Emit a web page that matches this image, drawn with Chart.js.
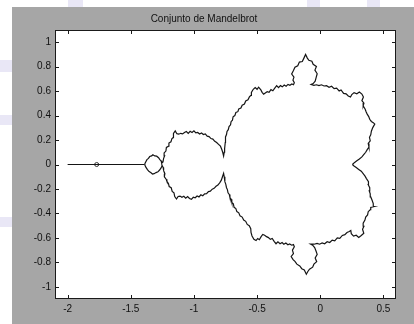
<!DOCTYPE html>
<html>
<head>
<meta charset="utf-8">
<script src="https://cdn.jsdelivr.net/npm/chart.js@4.4.0/dist/chart.umd.min.js"></script>
<style>
    html, body { margin: 0; padding: 0; background: #ffffff; }
    body { width: 414px; height: 324px; position: relative; overflow: hidden; }
    .patch { position: absolute; background: #e9e7f6; }
    #frame { position: absolute; left: 12px; top: 7px; width: 402px; height: 317px; background: #a6a6a6; }
</style>
</head>
<body>
<div class="patch" style="left:0;top:60px;width:12px;height:12px"></div>
<div class="patch" style="left:0;top:115px;width:12px;height:10px"></div>
<div class="patch" style="left:0;top:217px;width:12px;height:10px"></div>
<div class="patch" style="left:68px;top:0;width:15px;height:7px"></div>
<div class="patch" style="left:307px;top:0;width:13px;height:7px"></div>
<div class="patch" style="left:367px;top:0;width:13px;height:7px"></div>
<div id="frame"><canvas id="mandelChart" width="402" height="317"></canvas></div>
<script>
// Conjunto de Mandelbrot - boundary
const titleText = 'Conjunto de Mandelbrot';
const xTicks = [-2, -1.5, -1, -0.5, 0, 0.5];
const yTicks = [-1, -0.8, -0.6, -0.4, -0.2, 0, 0.2, 0.4, 0.6, 0.8, 1];

// antenna on the real axis and the tiny copy sitting on it
const antenna = [[-2.0, 0], [-1.39, 0]];
const miniCopy = [[-1.77, 0]];

// upper half of the outline, left to right
const upperEdge = [
    [-1.39, 0], [-1.385, 0.015], [-1.372, 0.04], [-1.36, 0.05], [-1.35, 0.065], [-1.335, 0.07], [-1.325, 0.08],
    [-1.31, 0.07], [-1.295, 0.068], [-1.28, 0.055], [-1.27, 0.04], [-1.26, 0.03], [-1.255, 0.01], [-1.245, 0.02],
    // period-2 bulb
    [-1.24, 0.05], [-1.232, 0.07], [-1.236, 0.095], [-1.222, 0.11], [-1.218, 0.14], [-1.2, 0.15], [-1.198, 0.175],
    [-1.182, 0.185], [-1.175, 0.21], [-1.165, 0.22], [-1.162, 0.255], [-1.148, 0.275], [-1.135, 0.252], [-1.12, 0.248],
    [-1.105, 0.255], [-1.09, 0.25], [-1.075, 0.262], [-1.06, 0.27], [-1.045, 0.255], [-1.03, 0.272], [-1.015, 0.262],
    [-1.0, 0.275], [-0.985, 0.258], [-0.97, 0.262], [-0.955, 0.25], [-0.94, 0.258], [-0.925, 0.245], [-0.91, 0.25],
    [-0.895, 0.232], [-0.88, 0.228], [-0.865, 0.212], [-0.85, 0.208], [-0.835, 0.19], [-0.82, 0.18], [-0.805, 0.165],
    [-0.79, 0.15], [-0.78, 0.125], [-0.772, 0.1], [-0.765, 0.07],
    // main cardioid, upper left
    [-0.76, 0.1], [-0.757, 0.13], [-0.752, 0.18], [-0.75, 0.225], [-0.742, 0.245], [-0.738, 0.27], [-0.728, 0.285],
    [-0.722, 0.31], [-0.71, 0.325], [-0.706, 0.35], [-0.695, 0.362], [-0.69, 0.39], [-0.676, 0.4], [-0.668, 0.425],
    [-0.652, 0.432], [-0.645, 0.455], [-0.628, 0.462], [-0.618, 0.485], [-0.6, 0.495], [-0.59, 0.52], [-0.572, 0.53],
    [-0.56, 0.555], [-0.548, 0.565],
    [-0.545, 0.59], [-0.53, 0.615], [-0.515, 0.63], [-0.5, 0.615], [-0.488, 0.632], [-0.47, 0.61], [-0.46, 0.59],
    [-0.448, 0.575], [-0.435, 0.585], [-0.42, 0.595], [-0.405, 0.59], [-0.39, 0.612], [-0.375, 0.603], [-0.36, 0.625],
    [-0.345, 0.645], [-0.33, 0.628], [-0.315, 0.645], [-0.3, 0.635], [-0.285, 0.65], [-0.27, 0.64], [-0.255, 0.655],
    [-0.24, 0.648], [-0.225, 0.658], [-0.212, 0.652],
    // top bulb
    [-0.205, 0.668], [-0.216, 0.69], [-0.208, 0.715], [-0.226, 0.74], [-0.212, 0.768], [-0.2, 0.795], [-0.178, 0.808],
    [-0.165, 0.838], [-0.142, 0.842], [-0.13, 0.868], [-0.116, 0.9], [-0.102, 0.87], [-0.09, 0.852], [-0.066, 0.845],
    [-0.056, 0.82], [-0.03, 0.802], [-0.042, 0.772], [-0.024, 0.742], [-0.032, 0.712], [-0.04, 0.682], [-0.056, 0.662],
    [-0.072, 0.655],
    // main cardioid, upper right
    [-0.05, 0.648], [-0.03, 0.652], [-0.01, 0.645], [0.01, 0.652], [0.03, 0.642], [0.05, 0.645], [0.07, 0.632],
    [0.09, 0.64], [0.11, 0.62], [0.13, 0.625], [0.15, 0.602], [0.165, 0.61], [0.185, 0.582], [0.205, 0.578],
    [0.222, 0.56], [0.24, 0.552],
    [0.25, 0.572], [0.268, 0.588], [0.29, 0.578], [0.31, 0.592], [0.33, 0.576], [0.342, 0.552], [0.33, 0.522],
    [0.346, 0.502], [0.34, 0.48],
    [0.356, 0.452], [0.364, 0.43], [0.372, 0.412], [0.384, 0.392], [0.392, 0.37], [0.405, 0.352], [0.42, 0.342],
    [0.432, 0.33], [0.416, 0.302], [0.405, 0.272], [0.4, 0.243], [0.39, 0.222], [0.396, 0.193], [0.38, 0.172],
    [0.386, 0.142], [0.372, 0.122], [0.36, 0.1], [0.346, 0.082], [0.33, 0.062], [0.31, 0.045], [0.29, 0.03],
    [0.27, 0.015], [0.255, 0]
];

// lower half of the outline, left to right
const lowerEdge = [
    [-1.39, 0], [-1.382, -0.02], [-1.368, -0.042], [-1.355, -0.058], [-1.342, -0.066], [-1.328, -0.078], [-1.315, -0.075],
    [-1.3, -0.066], [-1.285, -0.06], [-1.272, -0.045], [-1.26, -0.028], [-1.252, -0.01], [-1.243, -0.025],
    // period-2 bulb
    [-1.24, -0.05], [-1.23, -0.075], [-1.234, -0.1], [-1.22, -0.12], [-1.214, -0.138], [-1.202, -0.155], [-1.196, -0.18],
    [-1.18, -0.19], [-1.172, -0.22], [-1.158, -0.232], [-1.152, -0.262], [-1.138, -0.282], [-1.125, -0.262], [-1.11, -0.258],
    [-1.095, -0.268], [-1.08, -0.26], [-1.065, -0.275], [-1.05, -0.262], [-1.035, -0.278], [-1.02, -0.285], [-1.005, -0.268],
    [-0.99, -0.272], [-0.975, -0.258], [-0.96, -0.265], [-0.945, -0.248], [-0.93, -0.255], [-0.915, -0.24], [-0.9, -0.238],
    [-0.885, -0.222], [-0.87, -0.218], [-0.855, -0.202], [-0.84, -0.195], [-0.825, -0.178], [-0.81, -0.168], [-0.795, -0.148],
    [-0.783, -0.128], [-0.774, -0.1], [-0.765, -0.073],
    // main cardioid, lower left
    [-0.76, -0.1], [-0.755, -0.14], [-0.748, -0.16], [-0.742, -0.19], [-0.735, -0.205], [-0.73, -0.232], [-0.72, -0.245],
    [-0.715, -0.27], [-0.705, -0.285], [-0.7, -0.31], [-0.688, -0.322], [-0.682, -0.35], [-0.668, -0.36], [-0.66, -0.385],
    [-0.645, -0.395], [-0.635, -0.42], [-0.618, -0.43], [-0.606, -0.455], [-0.59, -0.465], [-0.578, -0.49], [-0.562, -0.5],
    [-0.55, -0.525],
    [-0.548, -0.555], [-0.54, -0.585], [-0.525, -0.612], [-0.508, -0.622], [-0.495, -0.605], [-0.482, -0.615], [-0.468, -0.59],
    [-0.455, -0.572], [-0.44, -0.578], [-0.425, -0.59], [-0.41, -0.598], [-0.395, -0.612], [-0.38, -0.605], [-0.365, -0.628],
    [-0.35, -0.648], [-0.335, -0.632], [-0.318, -0.648], [-0.302, -0.638], [-0.288, -0.652], [-0.272, -0.642], [-0.256, -0.656],
    [-0.242, -0.65], [-0.226, -0.66], [-0.212, -0.655],
    // bottom bulb
    [-0.205, -0.672], [-0.22, -0.7], [-0.212, -0.728], [-0.23, -0.752], [-0.215, -0.778], [-0.2, -0.792], [-0.185, -0.815],
    [-0.162, -0.83], [-0.146, -0.852], [-0.126, -0.862], [-0.11, -0.897], [-0.098, -0.875], [-0.085, -0.856], [-0.06, -0.84],
    [-0.05, -0.815], [-0.028, -0.795], [-0.04, -0.765], [-0.024, -0.735], [-0.034, -0.705], [-0.044, -0.68], [-0.06, -0.66],
    [-0.075, -0.652],
    // main cardioid, lower right
    [-0.048, -0.652], [-0.025, -0.645], [-0.005, -0.652], [0.015, -0.642], [0.035, -0.648], [0.055, -0.632], [0.075, -0.638],
    [0.095, -0.618], [0.115, -0.624], [0.135, -0.6], [0.155, -0.604], [0.175, -0.58], [0.195, -0.574], [0.212, -0.556],
    [0.23, -0.548], [0.242, -0.54],
    [0.246, -0.566], [0.264, -0.586], [0.285, -0.578], [0.305, -0.596], [0.325, -0.58], [0.345, -0.562], [0.335, -0.53],
    [0.346, -0.505], [0.34, -0.48],
    [0.354, -0.455], [0.36, -0.43], [0.375, -0.412], [0.38, -0.386], [0.395, -0.37], [0.4, -0.352], [0.425, -0.345],
    [0.42, -0.32], [0.41, -0.29], [0.4, -0.265], [0.396, -0.24], [0.388, -0.215], [0.392, -0.19], [0.38, -0.165],
    [0.382, -0.14], [0.366, -0.115], [0.355, -0.095], [0.34, -0.075], [0.325, -0.055], [0.305, -0.04], [0.285, -0.025],
    [0.265, -0.01], [0.255, 0]
];

const toPoints = pairs => pairs.map(p => ({ x: p[0], y: p[1] }));
const FONT = 'Arial, "Liberation Sans", sans-serif';

// white plot box, dark frame and inward ticks on all four sides
const boxPlugin = {
    id: 'boxPlugin',
    beforeDatasetsDraw(chart) {
        const { ctx, chartArea: a } = chart;
        ctx.save();
        ctx.fillStyle = '#ffffff';
        ctx.fillRect(a.left, a.top, a.right - a.left, a.bottom - a.top);
        ctx.restore();
    },
    afterDraw(chart) {
        const { ctx, chartArea: a, scales } = chart;
        ctx.save();
        ctx.strokeStyle = '#1a1a1a';
        ctx.lineWidth = 1;
        ctx.strokeRect(a.left + 0.5, a.top + 0.5, a.right - a.left - 1, a.bottom - a.top - 1);
        ctx.beginPath();
        scales.x.ticks.forEach(t => {
            const px = Math.round(scales.x.getPixelForValue(t.value)) + 0.5;
            ctx.moveTo(px, a.bottom); ctx.lineTo(px, a.bottom - 4);
            ctx.moveTo(px, a.top); ctx.lineTo(px, a.top + 4);
        });
        scales.y.ticks.forEach(t => {
            const py = Math.round(scales.y.getPixelForValue(t.value)) + 0.5;
            ctx.moveTo(a.left, py); ctx.lineTo(a.left + 4, py);
            ctx.moveTo(a.right, py); ctx.lineTo(a.right - 4, py);
        });
        ctx.stroke();
        ctx.restore();
    }
};

const lineStyle = {
    showLine: true,
    borderColor: '#151515',
    borderWidth: 1.2,
    pointRadius: 0,
    tension: 0
};

new Chart(document.getElementById('mandelChart'), {
    type: 'scatter',
    data: {
        datasets: [
            { ...lineStyle, data: toPoints(antenna) },
            { ...lineStyle, data: toPoints(upperEdge) },
            { ...lineStyle, data: toPoints(lowerEdge) },
            {
                data: toPoints(miniCopy),
                showLine: false,
                pointRadius: 2,
                pointBackgroundColor: '#ffffff',
                pointBorderColor: '#333333',
                pointBorderWidth: 1
            }
        ]
    },
    options: {
        responsive: false,
        animation: false,
        devicePixelRatio: 1,
        layout: { padding: { left: 0, right: 18, top: 0, bottom: 0 } },
        plugins: {
            legend: { display: false },
            tooltip: { enabled: false },
            title: {
                display: true,
                text: titleText,
                color: '#111111',
                font: { family: FONT, size: 10, weight: 'normal' },
                padding: { top: 6, bottom: 5 }
            }
        },
        scales: {
            x: {
                type: 'linear',
                min: -2.1,
                max: 0.6,
                afterBuildTicks: s => { s.ticks = xTicks.map(v => ({ value: v })); },
                afterFit: s => { s.height = 25; },
                grid: { display: false, drawTicks: false },
                border: { display: false },
                ticks: {
                    padding: 4,
                    color: '#111111',
                    font: { family: FONT, size: 10 },
                    maxRotation: 0,
                    autoSkip: false,
                    callback: v => String(v)
                }
            },
            y: {
                type: 'linear',
                min: -1.1,
                max: 1.1,
                afterBuildTicks: s => { s.ticks = yTicks.map(v => ({ value: v })); },
                afterFit: s => { s.width = 43; },
                grid: { display: false, drawTicks: false },
                border: { display: false },
                ticks: {
                    padding: 4,
                    color: '#111111',
                    font: { family: FONT, size: 10 },
                    autoSkip: false,
                    callback: v => String(v)
                }
            }
        }
    },
    plugins: [boxPlugin]
});
</script>
</body>
</html>
